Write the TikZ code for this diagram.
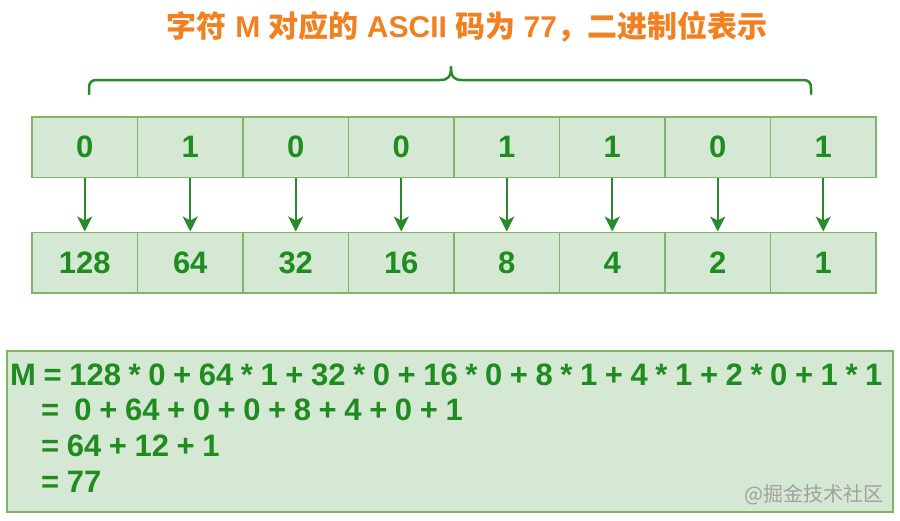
\documentclass[tikz,border=0pt]{standalone}
\usepackage{fontspec}
\setmainfont{Liberation Sans}
\newfontfamily\cjk{Noto Sans CJK SC}
\usetikzlibrary{arrows.meta}
\definecolor{cellfill}{HTML}{D5E8D4}
\definecolor{cellline}{HTML}{82B366}
\definecolor{txtgreen}{HTML}{1F8C1F}
\definecolor{arrgreen}{HTML}{2A8A2A}
\definecolor{titleorange}{HTML}{F08020}
\definecolor{wmgray}{HTML}{A0A0A0}
\newcommand\calcfont{\fontsize{31}{31}\selectfont\bfseries\spaceskip 7.6pt\relax}
\begin{document}
\begin{tikzpicture}[x=1pt,y=-1pt,
  cell/.style={draw=cellline, fill=cellfill, line width=1.5pt, minimum width=105.5pt,
    minimum height=60.5pt, inner sep=0pt, text=txtgreen,
    font=\fontsize{31}{31}\selectfont\bfseries},
  arr/.style={draw=arrgreen, line width=2pt, -{Stealth[length=15pt,width=15pt,inset=4pt]}},
  calcbox/.style={draw=cellline, fill=cellfill, line width=1.8pt, inner sep=0pt},
  calcline/.style={anchor=base west, inner sep=0pt, text=txtgreen, font=\calcfont},
  bracepath/.style={draw=arrgreen, line width=2.5pt, line cap=round, line join=round}]
\useasboundingbox (0,0) rectangle (900,520);
\fill[white] (0,0) rectangle (900,520);
% title
\node[anchor=base, inner sep=0pt, text=titleorange,
  font=\fontsize{30}{30}\selectfont\bfseries] (title) at (467,37.5)
  {{\cjk\bfseries 字符} M {\cjk\bfseries 对应的} ASCII {\cjk\bfseries 码为} 77{\cjk\bfseries ，二进制位表示}};
% brace
\coordinate (brL) at (89,94);
\coordinate (brR) at (811,94);
\coordinate (brT) at (451,67);
\draw[bracepath] (brL) -- (89,89) .. controls (89,82) and (91,80) .. (98,80) -- (440,80)
  .. controls (448,80) and (451,77) .. (brT)
  .. controls (451,77) and (454,80) .. (462,80) -- (802,80)
  .. controls (809,80) and (811,82) .. (811,89) -- (brR);
% cells
\foreach \v [count=\i] in {0,1,0,0,1,1,0,1} {
  \node[cell] (t\i) at ({32+105.5*(\i-0.5)},147) {\v};
}
\foreach \v [count=\i] in {128,64,32,16,8,4,2,1} {
  \node[cell] (b\i) at ({32+105.5*(\i-0.5)},262.5) {\v};
}
\foreach \i in {1,...,8} {
  \draw[arr] (t\i.south) -- (b\i.north);
}
% calculation box
\node[calcbox, minimum width=886pt, minimum height=161pt] (calc) at (450,431.5) {};
\node[calcline] (l1) at (10,385.5) {M = 128 * 0 + 64 * 1 + 32 * 0 + 16 * 0 + 8 * 1 + 4 * 1 + 2 * 0 + 1 * 1};
\node[calcline] (l2) at (41,420.5) {=\hspace{15.2pt}0 + 64 + 0 + 0 + 8 + 4 + 0 + 1};
\node[calcline] (l3) at (41,456.5) {= 64 + 12 + 1};
\node[calcline] (l4) at (41,492) {= 77};
% watermark
\node[anchor=base east, inner sep=0pt, text=wmgray, font=\fontsize{20}{20}\selectfont\cjk] (wm) at (884,501) {@掘金技术社区};
\end{tikzpicture}
\end{document}
